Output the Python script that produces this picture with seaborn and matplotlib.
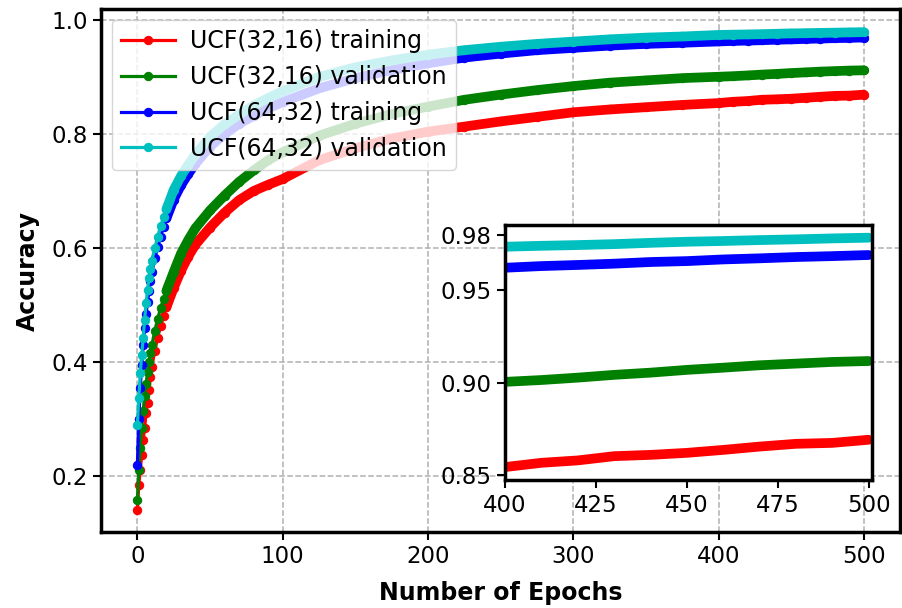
import numpy as np
import pandas as pd
import matplotlib
matplotlib.use('Agg')
import matplotlib.pyplot as plt
from matplotlib.ticker import FormatStrFormatter
import seaborn as sns

epochs = [0, 1, 2, 3, 4, 5, 6, 7, 8, 9, 10,
          12, 14, 16, 18, 20,
          25, 30, 35, 40,
          50, 60, 70, 80, 90, 100,
          125, 150, 175, 200, 225, 250, 275, 300, 325, 350, 375,
          400, 410, 420, 430, 440, 450, 460, 470, 480, 490, 500]

ucf32_train = [0.140, 0.184, 0.211, 0.237, 0.263, 0.284, 0.310, 0.328, 0.351, 0.374, 0.392,
               0.420, 0.443, 0.463, 0.480, 0.496,
               0.530, 0.560, 0.585, 0.606,
               0.636, 0.662, 0.684, 0.700, 0.711, 0.721,
               0.754, 0.775, 0.792, 0.804, 0.813, 0.822, 0.830, 0.838, 0.843, 0.847, 0.851,
               0.8542, 0.8565, 0.8578, 0.8601, 0.8608, 0.8619, 0.8635, 0.8653, 0.8668, 0.8673, 0.8690]

ucf32_val = [0.158, 0.210, 0.250, 0.285, 0.315, 0.340, 0.362, 0.382, 0.400, 0.416, 0.430,
             0.455, 0.476, 0.495, 0.511, 0.525,
             0.558, 0.590, 0.614, 0.635,
             0.666, 0.692, 0.716, 0.736, 0.754, 0.768,
             0.797, 0.818, 0.835, 0.848, 0.860, 0.869, 0.877, 0.884, 0.890, 0.894, 0.898,
             0.9004, 0.9014, 0.9027, 0.9042, 0.9054, 0.9069, 0.9081, 0.9094, 0.9103, 0.9112, 0.9117]

ucf64_train = [0.219, 0.300, 0.355, 0.395, 0.430, 0.460, 0.485, 0.505, 0.525, 0.543, 0.558,
               0.582, 0.602, 0.620, 0.637, 0.652,
               0.685, 0.710, 0.730, 0.748,
               0.778, 0.800, 0.818, 0.832, 0.845, 0.856,
               0.880, 0.898, 0.912, 0.924, 0.934, 0.941, 0.947, 0.951, 0.955, 0.958, 0.960,
               0.9623, 0.9632, 0.9638, 0.9645, 0.9654, 0.9659, 0.9668, 0.9674, 0.9681, 0.9686, 0.9692]

ucf64_val = [0.289, 0.337, 0.381, 0.412, 0.442, 0.474, 0.503, 0.526, 0.547, 0.563, 0.578,
             0.600, 0.620, 0.638, 0.654, 0.668,
             0.702, 0.726, 0.746, 0.764,
             0.795, 0.817, 0.834, 0.850, 0.863, 0.875,
             0.900, 0.917, 0.929, 0.939, 0.947, 0.953, 0.958, 0.962, 0.966, 0.969, 0.971,
             0.9737, 0.9742, 0.9746, 0.9751, 0.9758, 0.9764, 0.9768, 0.9773, 0.9777, 0.9782, 0.9786]

labels = ['UCF(32,16) training', 'UCF(32,16) validation',
          'UCF(64,32) training', 'UCF(64,32) validation']
colors = ['r', 'g', 'b', 'c']
series = [ucf32_train, ucf32_val, ucf64_train, ucf64_val]

ep = np.array(epochs)
band_start = epochs.index(20)   # from here the dots merge into a thick band
inset_start = epochs.index(400)

fig = plt.figure(figsize=(9.02, 6.08), dpi=100)
ax = fig.add_axes([0.112, 0.125, 0.886, 0.860])

for vals, lab, col in zip(series, labels, colors):
    v = np.array(vals)
    sns.lineplot(x=ep[band_start:], y=v[band_start:], ax=ax, color=col, lw=7,
                 solid_capstyle='round', legend=False)
    sns.lineplot(x=ep, y=v, ax=ax, color=col, lw=2.3, marker='o', markersize=6,
                 markeredgecolor=col, label=lab)

ax.grid(True, linestyle='--', color='#b0b0b0', linewidth=1.1)
ax.set_xlim(-25, 525)
ax.set_ylim(0.102, 1.019)
ax.set_xticks([0, 100, 200, 300, 400, 500])
ax.set_yticks([0.2, 0.4, 0.6, 0.8, 1.0])
ax.tick_params(direction='out', length=6, width=1.5, labelsize=16.5)
for s in ax.spines.values():
    s.set_linewidth(2.5)
ax.set_xlabel('Number of Epochs', fontsize=17, fontweight='bold', labelpad=9)
ax.set_ylabel('Accuracy', fontsize=17, fontweight='bold', labelpad=8)
ax.legend(loc='upper left', fontsize=17, handlelength=2.3, handletextpad=0.6,
          labelspacing=0.5, borderaxespad=0.45)

# zoomed inset for the last 100 epochs
axin = fig.add_axes([0.56, 0.21, 0.407, 0.42])
axin.set_facecolor('white')
for vals, col in zip(series, colors):
    v = np.array(vals)
    sns.lineplot(x=ep[inset_start:], y=v[inset_start:], ax=axin, color=col, lw=7,
                 solid_capstyle='round', legend=False)
axin.set_xlim(400, 501)
axin.set_ylim(0.847, 0.9855)
axin.set_xticks([400, 425, 450, 475, 500])
axin.set_yticks([0.85, 0.90, 0.95, 0.98])
axin.yaxis.set_major_formatter(FormatStrFormatter('%.2f'))
axin.tick_params(direction='out', length=6, width=1.5, labelsize=16.5)
axin.set_xlabel('')
axin.set_ylabel('')
for s in axin.spines.values():
    s.set_linewidth(2.5)

fig.savefig('out.png', dpi=100)
